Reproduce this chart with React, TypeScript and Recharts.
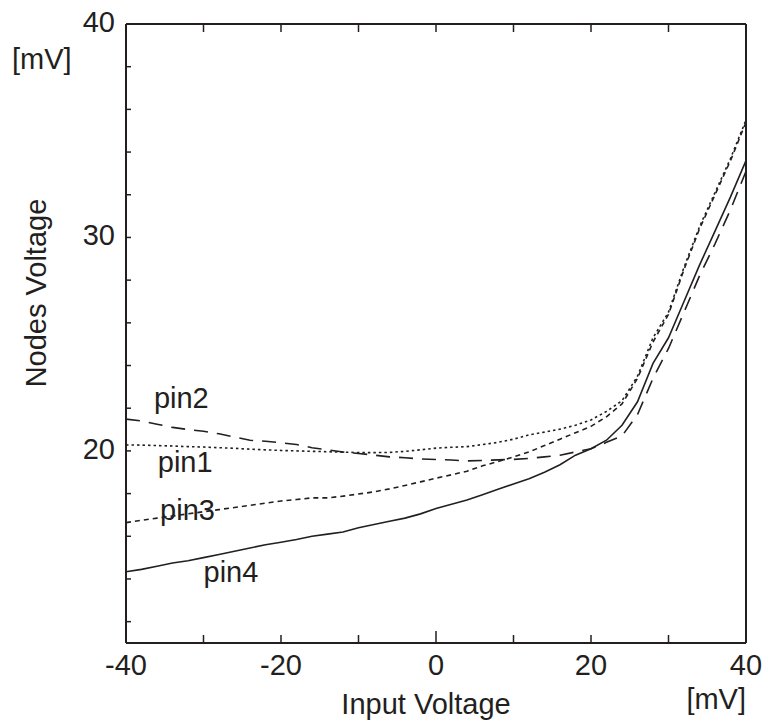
import React from 'react';
import { LineChart, Line, XAxis, YAxis, ReferenceDot, Customized } from 'recharts';

// input voltage (mV), every 2 mV
const inputMv = [
  -40, -38, -36, -34, -32, -30, -28, -26, -24, -22, -20, -18, -16, -14, -12, -10, -8, -6, -4, -2,
  0, 2, 4, 6, 8, 10, 12, 14, 16, 18, 20, 22, 24, 26, 28, 30, 32, 34, 36, 38, 40,
];

// node voltages (mV)
const pin1 = [
  20.28, 20.27, 20.25, 20.23, 20.2, 20.18, 20.15, 20.12, 20.08, 20.05, 20.02, 20.0, 19.98, 19.96, 19.94, 19.92, 19.92, 19.93, 19.98, 20.05,
  20.13, 20.17, 20.2, 20.3, 20.4, 20.55, 20.75, 20.88, 21.02, 21.2, 21.45, 21.85, 22.35, 23.5, 25.3, 26.5, 28.6, 30.5, 32.1, 33.7, 35.5,
];
const pin2 = [
  21.49, 21.4, 21.25, 21.1, 21.0, 20.92, 20.8, 20.65, 20.5, 20.45, 20.38, 20.3, 20.15, 20.05, 19.95, 19.88, 19.8, 19.72, 19.68, 19.62,
  19.6, 19.57, 19.53, 19.55, 19.58, 19.6, 19.65, 19.72, 19.8, 19.95, 20.1, 20.4, 20.7, 21.7, 23.4, 24.8, 26.5, 28.2, 29.7, 31.3, 33.1,
];
const pin3 = [
  16.64, 16.75, 16.85, 16.95, 17.05, 17.15, 17.25, 17.35, 17.45, 17.55, 17.65, 17.72, 17.8, 17.8, 17.88, 17.98, 18.08, 18.22, 18.38, 18.55,
  18.72, 18.88, 19.05, 19.3, 19.5, 19.72, 19.95, 20.25, 20.55, 20.85, 21.15, 21.6, 22.2, 23.4, 25.1, 26.4, 28.5, 30.4, 32.0, 33.6, 35.4,
];
const pin4 = [
  14.34, 14.45, 14.6, 14.75, 14.85, 15.0, 15.15, 15.3, 15.45, 15.6, 15.72, 15.85, 16.0, 16.1, 16.2, 16.4, 16.55, 16.7, 16.85, 17.05,
  17.3, 17.5, 17.7, 17.95, 18.2, 18.45, 18.7, 19.0, 19.35, 19.8, 20.1, 20.5, 21.2, 22.3, 24.1, 25.3, 27.0, 28.7, 30.3, 31.9, 33.6,
];

const xTicks = [-40, -30, -20, -10, 0, 10, 20, 30, 40];
const xLabels = [-40, -20, 0, 20, 40];
const yTicks = [12, 14, 16, 18, 20, 22, 24, 26, 28, 30, 32, 34, 36, 38, 40];
const yLabels = [20, 30, 40];

// curve name annotations (left edge, baseline) in data units
const pinLabels = [
  { name: 'pin2', x: -36.4, y: 22.0 },
  { name: 'pin1', x: -35.9, y: 19.0 },
  { name: 'pin3', x: -35.6, y: 16.75 },
  { name: 'pin4', x: -30.0, y: 13.85 },
];

const data = inputMv.map((x, i) => ({ x, pin1: pin1[i], pin2: pin2[i], pin3: pin3[i], pin4: pin4[i] }));

const INK = '#231f20';
const FONT = '"Liberation Sans", Arial, Helvetica, sans-serif';

const BottomTick = (props: any) => {
  const { x, y, payload } = props;
  const v = payload.value;
  return (
    <g>
      <line x1={x} x2={x} y1={y} y2={y - (v === 0 ? 12 : 8)} stroke={INK} strokeWidth={1.5} />
      {xLabels.includes(v) && (
        <text x={x} y={y + 32} textAnchor="middle" fontSize={29} fontFamily={FONT} fill={INK}>
          {v}
        </text>
      )}
    </g>
  );
};

const TopTick = (props: any) => {
  const { x, y } = props;
  return <line x1={x} x2={x} y1={y} y2={y + 8} stroke={INK} strokeWidth={1.5} />;
};

const LeftTick = (props: any) => {
  const { x, y, payload } = props;
  const v = payload.value;
  return (
    <g>
      <line x1={x} x2={x + 5} y1={y} y2={y} stroke={INK} strokeWidth={1.5} />
      {yLabels.includes(v) && (
        <text x={x - 11} y={y + 8} textAnchor="end" fontSize={29} fontFamily={FONT} fill={INK}>
          {v}
        </text>
      )}
    </g>
  );
};

const RightTick = (props: any) => {
  const { x, y } = props;
  return <line x1={x} x2={x - 5} y1={y} y2={y} stroke={INK} strokeWidth={1.5} />;
};

const Titles = () => (
  <g fontFamily={FONT} fontSize={29} fill={INK}>
    <text x={426} y={714} textAnchor="middle">Input Voltage</text>
    <text x={746} y={709} textAnchor="end">[mV]</text>
    <text x={12} y={69}>[mV]</text>
    <text x={46} y={293} textAnchor="middle" transform="rotate(-90, 46, 293)">Nodes Voltage</text>
  </g>
);

const App: React.FC = () => {
  return (
    <div style={{ position: 'absolute', left: 0, top: 0, background: '#fff' }}>
      <LineChart width={766} height={722} data={data} margin={{ top: 23, right: 19, bottom: 78, left: 125 }}>
        <XAxis
          xAxisId="b"
          dataKey="x"
          type="number"
          domain={[-40, 40]}
          ticks={xTicks}
          interval={0}
          height={1}
          tickSize={0}
          tickMargin={0}
          tickLine={false}
          axisLine={{ stroke: INK, strokeWidth: 2 }}
          tick={<BottomTick />}
        />
        <XAxis
          xAxisId="t"
          orientation="top"
          dataKey="x"
          type="number"
          domain={[-40, 40]}
          ticks={xTicks}
          interval={0}
          height={1}
          tickSize={0}
          tickMargin={0}
          tickLine={false}
          axisLine={{ stroke: INK, strokeWidth: 2 }}
          tick={<TopTick />}
        />
        <YAxis
          yAxisId="l"
          type="number"
          domain={[11, 40]}
          ticks={yTicks}
          interval={0}
          width={1}
          tickSize={0}
          tickMargin={0}
          tickLine={false}
          axisLine={{ stroke: INK, strokeWidth: 2 }}
          tick={<LeftTick />}
        />
        <YAxis
          yAxisId="r"
          orientation="right"
          type="number"
          domain={[11, 40]}
          ticks={yTicks}
          interval={0}
          width={1}
          tickSize={0}
          tickMargin={0}
          tickLine={false}
          axisLine={{ stroke: INK, strokeWidth: 2 }}
          tick={<RightTick />}
        />
        <Line xAxisId="b" yAxisId="l" type="linear" dataKey="pin1" stroke={INK} strokeWidth={1.6} strokeDasharray="2.5 3" dot={false} isAnimationActive={false} />
        <Line xAxisId="b" yAxisId="l" type="linear" dataKey="pin2" stroke={INK} strokeWidth={1.6} strokeDasharray="14 9" dot={false} isAnimationActive={false} />
        <Line xAxisId="b" yAxisId="l" type="linear" dataKey="pin3" stroke={INK} strokeWidth={1.6} strokeDasharray="5 4" dot={false} isAnimationActive={false} />
        <Line xAxisId="b" yAxisId="l" type="linear" dataKey="pin4" stroke={INK} strokeWidth={1.6} dot={false} isAnimationActive={false} />
        {pinLabels.map((p) => (
          <ReferenceDot
            key={p.name}
            xAxisId="b"
            yAxisId="l"
            x={p.x}
            y={p.y}
            r={0}
            fill="none"
            stroke="none"
            label={(lp: any) => (
              <text x={lp.viewBox.x} y={lp.viewBox.y} fontSize={29} fontFamily={FONT} fill={INK}>
                {p.name}
              </text>
            )}
          />
        ))}
        <Customized component={Titles} />
      </LineChart>
    </div>
  );
};

export default App;
